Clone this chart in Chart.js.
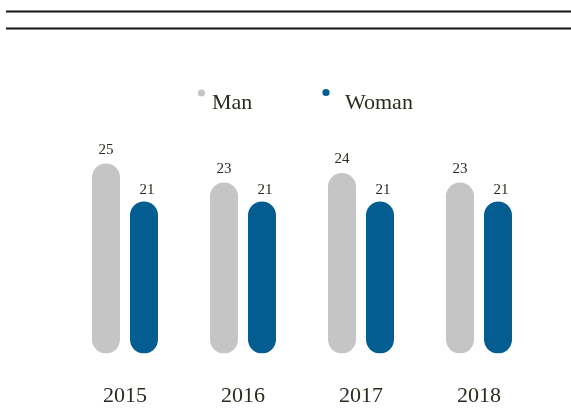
<!DOCTYPE html>
<html>
<head>
<meta charset="utf-8">
<script src="https://cdn.jsdelivr.net/npm/chart.js@4/dist/chart.umd.min.js"></script>
<style>
html,body{margin:0;padding:0;background:#fff;}
#wrap{position:relative;width:571px;height:409px;}
</style>
</head>
<body>
<div id="wrap"><canvas id="c"></canvas></div>
<script>
const categories = ['2015', '2016', '2017', '2018'];
const manValues = [25, 23, 24, 23];
const womanValues = [21, 21, 21, 21];
const seriesNames = ['Man', 'Woman'];
const seriesColors = ['#c4c5c4', '#045d91'];
const textColor = '#2b2b20';
const serif = "'Liberation Serif', 'Times New Roman', serif";
const axisMin = 5;
const axisMax = 30;

const decorPlugin = {
  id: 'decor',
  afterDraw(chart) {
    const ctx = chart.ctx;
    ctx.save();
    ctx.strokeStyle = '#151515';
    ctx.lineWidth = 2;
    [11.5, 28.5].forEach(y => {
      ctx.beginPath();
      ctx.moveTo(6, y);
      ctx.lineTo(chart.width, y);
      ctx.stroke();
    });
    const legendItems = [
      { dotX: 201.5, dotY: 93, textX: 212 },
      { dotX: 326, dotY: 92.5, textX: 345 }
    ];
    ctx.font = "22px " + serif;
    ctx.textBaseline = 'alphabetic';
    ctx.textAlign = 'left';
    chart.data.datasets.forEach((ds, i) => {
      const it = legendItems[i];
      ctx.fillStyle = ds.backgroundColor;
      ctx.beginPath();
      ctx.arc(it.dotX, it.dotY, 3.6, 0, Math.PI * 2);
      ctx.fill();
      ctx.fillStyle = textColor;
      ctx.fillText(ds.label, it.textX, 109);
    });
    ctx.restore();
  },
  afterDatasetsDraw(chart) {
    const ctx = chart.ctx;
    ctx.save();
    ctx.font = "15px " + serif;
    ctx.fillStyle = textColor;
    ctx.textAlign = 'center';
    ctx.textBaseline = 'alphabetic';
    const gaps = [10, 7.5];
    const dx = [0, 3];
    chart.data.datasets.forEach((ds, i) => {
      const meta = chart.getDatasetMeta(i);
      meta.data.forEach((bar, j) => {
        ctx.fillText(String(ds.data[j]), bar.x + dx[i], bar.y - gaps[i]);
      });
    });
    ctx.restore();
  }
};

new Chart(document.getElementById('c'), {
  type: 'bar',
  data: {
    labels: categories,
    datasets: [
      { label: seriesNames[0], data: manValues, backgroundColor: seriesColors[0] },
      { label: seriesNames[1], data: womanValues, backgroundColor: seriesColors[1] }
    ]
  },
  options: {
    responsive: true,
    maintainAspectRatio: false,
    animation: false,
    layout: { padding: { top: 116, left: 66, right: 33, bottom: 0 } },
    datasets: {
      bar: {
        base: axisMin,
        categoryPercentage: 0.644,
        barPercentage: 0.737,
        borderRadius: 14,
        borderSkipped: false
      }
    },
    plugins: {
      legend: { display: false },
      tooltip: { enabled: false }
    },
    scales: {
      x: {
        grid: { display: false, drawTicks: false },
        border: { display: false },
        ticks: {
          color: textColor,
          font: { family: serif, size: 22 },
          padding: 30
        },
        afterFit(scale) { scale.height = 55.5; }
      },
      y: {
        display: false,
        min: axisMin,
        max: axisMax
      }
    }
  },
  plugins: [decorPlugin]
});
</script>
</body>
</html>
